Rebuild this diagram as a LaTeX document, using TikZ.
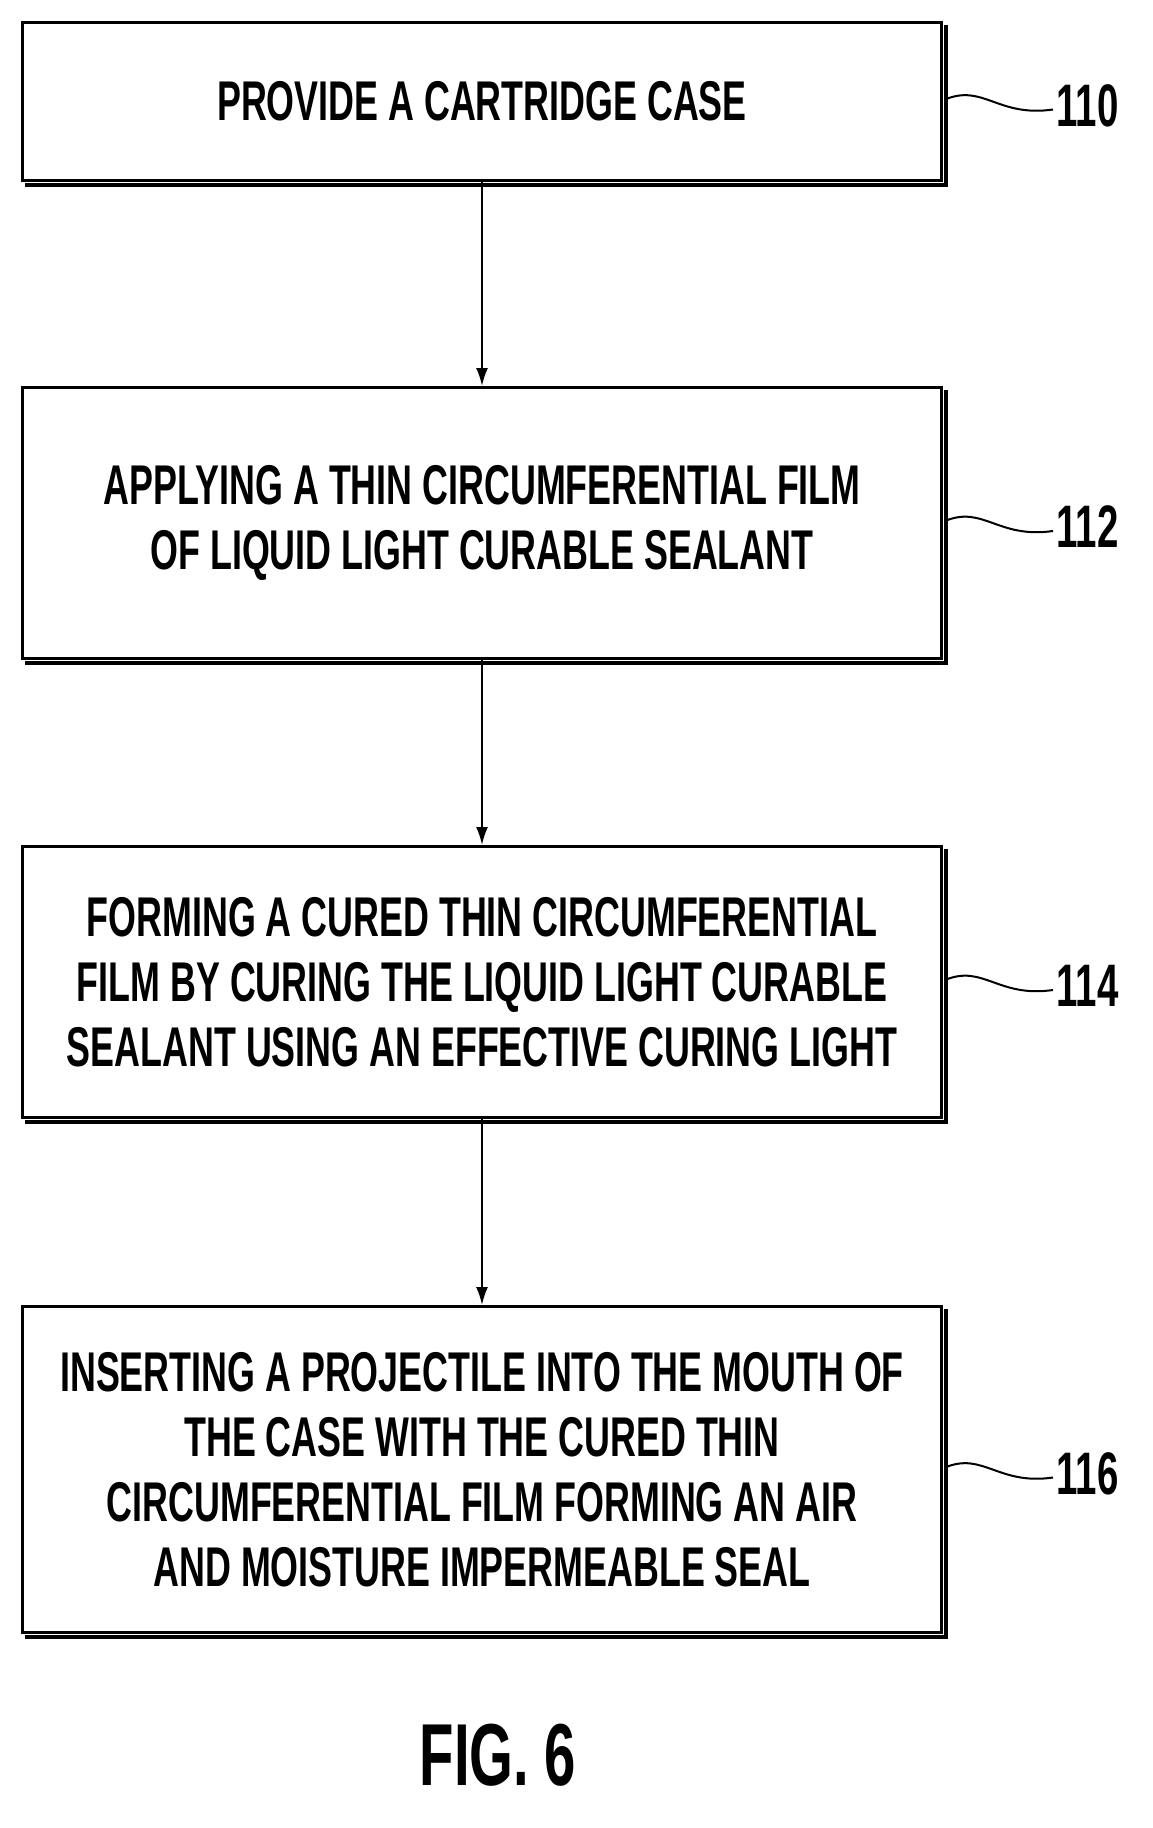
\documentclass[tikz,border=0pt]{standalone}
\usepackage{fontspec}
\setmainfont{Liberation Sans}[FakeStretch=0.64]
\usetikzlibrary{arrows.meta}
\begin{document}
\begin{tikzpicture}[x=1pt,y=-1pt,
  box/.style={draw,line width=3pt,minimum width=919pt,anchor=north west,inner sep=0pt,align=center,font=\fontsize{56}{65}\selectfont\bfseries},
  lbl/.style={font=\fontsize{60}{60}\selectfont\bfseries,anchor=west},
  arr/.style={line width=2pt,-{Latex[length=18pt,width=12pt]}}]
\useasboundingbox (0,0) rectangle (1153,1828);
\node[box,minimum height=158pt] (b1) at (21,21) {PROVIDE A CARTRIDGE CASE};
\node[box,minimum height=271pt] (b2) at (21,386) {APPLYING A THIN CIRCUMFERENTIAL FILM\\OF LIQUID LIGHT CURABLE SEALANT};
\node[box,minimum height=271pt] (b3) at (21,845) {FORMING A CURED THIN CIRCUMFERENTIAL\\FILM BY CURING THE LIQUID LIGHT CURABLE\\SEALANT USING AN EFFECTIVE CURING LIGHT};
\node[box,minimum height=326pt] (b4) at (21,1305) {INSERTING A PROJECTILE INTO THE MOUTH OF\\THE CASE WITH THE CURED THIN\\CIRCUMFERENTIAL FILM FORMING AN AIR\\AND MOISTURE IMPERMEABLE SEAL};
\foreach \b in {b1,b2,b3,b4}{
  \draw[line width=4pt] ([xshift=2.5pt,yshift=-4pt]\b.north east) -- ([xshift=2.5pt,yshift=-2.5pt]\b.south east) -- ([xshift=4pt,yshift=-2.5pt]\b.south west);}
\draw[arr] (b1.south) -- (b2.north);
\draw[arr] (b2.south) -- (b3.north);
\draw[arr] (b3.south) -- (b4.north);
\foreach \b/\n in {b1/110,b2/112,b3/114,b4/116}{
  \node[lbl] (l\n) at ([xshift=110pt,yshift=-4pt]\b.east) {\n};
  \draw[line width=2pt] ([xshift=2pt,yshift=2pt]\b.east) .. controls ([xshift=40pt,yshift=18pt]\b.east) and ([xshift=55pt,yshift=-16pt]\b.east) .. ([xshift=110pt,yshift=-8pt]\b.east);}
\node[font=\fontsize{88}{90}\selectfont\bfseries] (fig) at (498,1755) {FIG. 6};
\end{tikzpicture}
\end{document}
